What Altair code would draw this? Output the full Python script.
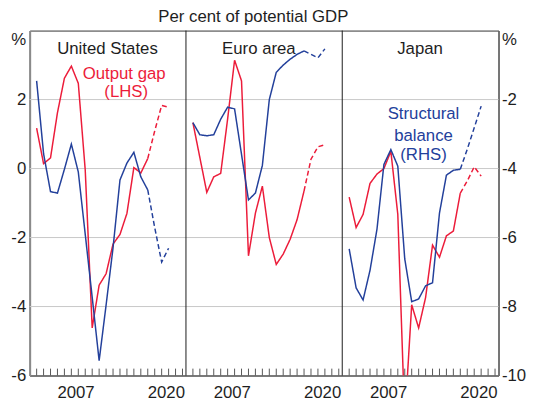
import altair as alt
import pandas as pd

# ---------------- data ----------------
years = list(range(2002, 2022))
forecast_from = 2018
countries = ["United States", "Euro area", "Japan"]

# Output gap (LHS, %)
us_gap = [1.17, 0.14, 0.31, 1.62, 2.62, 2.97, 2.47, -0.05, -4.62, -3.38,
          -3.05, -2.19, -1.91, -1.30, 0.03, -0.13, 0.29, 1.09, 1.83, 1.78]
ea_gap = [1.33, 0.32, -0.69, -0.24, -0.14, 1.44, 3.14, 2.54, -2.53, -1.29,
          -0.51, -2.00, -2.78, -2.48, -2.05, -1.48, -0.65, 0.27, 0.63, 0.69]
jp_gap = [-0.83, -1.71, -1.33, -0.43, -0.16, 0.00, 0.50, -1.33, -7.30, -3.95,
          -4.62, -3.74, -2.22, -2.57, -1.95, -1.81, -0.71, -0.36, 0.05, -0.22]

# Structural balance (RHS, %)
us_bal = [-1.46, -3.57, -4.67, -4.71, -4.02, -3.29, -4.10, -5.91, -7.73, -9.57,
          -7.96, -6.30, -4.33, -3.84, -3.53, -4.24, -4.62, -5.71, -6.71, -6.31]
ea_bal = [-2.67, -3.02, -3.05, -3.02, -2.57, -2.22, -2.27, -3.59, -4.91, -4.71,
          -3.91, -2.00, -1.21, -1.00, -0.83, -0.69, -0.59, -0.69, -0.79, -0.53]
jp_bal = [-6.33, -7.46, -7.81, -6.95, -5.76, -3.88, -3.45, -3.93, -6.62, -7.86,
          -7.78, -7.40, -7.31, -5.29, -4.19, -4.05, -4.02, -3.44, -2.82, -2.19]

tick_years = list(range(2002, 2024))
label_years = ["2007", "2020"]
lhs_ticks = [-6, -4, -2, 0, 2]
rhs_ticks = [-10, -8, -6, -4, -2]
grid_vals = [-4, -2, 0, 2]

RED = "#ec1c3a"
BLUE = "#23409b"
FONT = "Liberation Sans"
TXT = "#1e1e1e"

# ---------------- layout helpers ----------------
SPAN = 22.5          # years per panel
START = 2001         # left edge year of each panel
XMAX = 3 * SPAN


def px(k, year):
    return k * SPAN + (year - START)


gaps = [us_gap, ea_gap, jp_gap]
bals = [us_bal, ea_bal, jp_bal]

rows_gap, rows_bal = [], []
for k, c in enumerate(countries):
    for i, y in enumerate(years):
        for seg in ("actual", "forecast"):
            if (seg == "actual" and y <= forecast_from) or (seg == "forecast" and y >= forecast_from):
                rows_gap.append({"country": c, "x": px(k, y), "v": gaps[k][i], "seg": seg})
                rows_bal.append({"country": c, "x": px(k, y), "v": bals[k][i], "seg": seg})
gap_df = pd.DataFrame(rows_gap)
bal_df = pd.DataFrame(rows_bal)

tick_df = pd.DataFrame([{"x": px(k, y), "v": -6, "v2": -5.8}
                        for k in range(3) for y in tick_years])
label_pos = [px(k, int(l)) + 0.6 for k in range(3) for l in label_years]
grid_df = pd.DataFrame({"v": grid_vals})
sep_df = pd.DataFrame({"x": [SPAN, 2 * SPAN]})

titles_df = pd.DataFrame({"t": countries, "x": [11.2, 33.0, 56.2], "v": [3.47, 3.47, 3.47]})
sub_df = pd.DataFrame({"t": ["Per cent of potential GDP"], "x": [32.2], "v": [4.25]})
red_txt = pd.DataFrame({"t": ["Output gap", "(LHS)"], "x": [13.6, 13.9], "v": [2.75, 2.21]})
blue_txt = pd.DataFrame({"t": ["Structural", "balance", "(RHS)"], "x": [56.7, 56.7, 56.7],
                         "v": [-2.42, -3.05, -3.62]})

xscale = alt.Scale(domain=[0, XMAX], nice=False, zero=False)
yl = alt.Scale(domain=[-6, 4], nice=False, zero=False)
yr = alt.Scale(domain=[-10, 0], nice=False, zero=False)

x_axis = alt.Axis(values=label_pos, labelExpr="datum.value % 22.5 < 10 ? '2007' : '2020'",
                  orient="bottom", ticks=False, tickSize=0, grid=False, title=None,
                  labelFlush=False, labelOverlap=False, labelFontSize=17, labelFont=FONT,
                  labelColor=TXT, labelPadding=9, domainColor="#7a7a7a", domainWidth=2)
l_axis = alt.Axis(values=lhs_ticks + [3.75], orient="left",
                  labelExpr="datum.value > 3 ? '%' : '' + datum.value",
                  ticks=False, tickSize=0, grid=False, title=None, labelOverlap=False,
                  labelFontSize=17, labelFont=FONT, labelColor=TXT, labelPadding=4,
                  labelFlush=False, domainColor="#8a8a8a", domainWidth=2)
r_axis = alt.Axis(values=rhs_ticks + [-0.25], orient="right",
                  labelExpr="datum.value > -0.5 ? '%' : '' + datum.value",
                  ticks=False, tickSize=0, grid=False, title=None, labelOverlap=False,
                  labelFontSize=17, labelFont=FONT, labelColor=TXT, labelPadding=3,
                  labelFlush=False, domainColor="#6a6a6a", domainWidth=1.5)

X = alt.X("x:Q", scale=xscale, axis=x_axis)
YL = alt.Y("v:Q", scale=yl, axis=l_axis)
YR = alt.Y("v:Q", scale=yr, axis=r_axis)

dash = alt.StrokeDash("seg:N", scale=alt.Scale(domain=["actual", "forecast"],
                                               range=[[1, 0], [5, 3]]), legend=None)

grid = alt.Chart(grid_df).mark_rule(color="#c8c8c8", strokeWidth=1).encode(y=YL)
seps = alt.Chart(sep_df).mark_rule(color="#1a1a1a", strokeWidth=1).encode(x=X)
ticks = alt.Chart(tick_df).mark_rule(color="#555555", strokeWidth=1).encode(
    x=X, y=YL, y2="v2:Q")
red_line = alt.Chart(gap_df).mark_line(color=RED, strokeWidth=1.5, clip=True).encode(
    x=X, y=YL, strokeDash=dash, detail="country:N")
titles = alt.Chart(titles_df).mark_text(fontSize=17, font=FONT, color=TXT, align="center",
                                        baseline="middle").encode(x=X, y=YL, text="t:N")
subtitle = alt.Chart(sub_df).mark_text(fontSize=17, font=FONT, color=TXT, align="center",
                                       baseline="alphabetic").encode(x=X, y=YL, text="t:N")
red_lab = alt.Chart(red_txt).mark_text(fontSize=17, font=FONT, color=RED, align="center",
                                       baseline="middle").encode(x=X, y=YL, text="t:N")

left = alt.layer(grid, seps, ticks, red_line, titles, subtitle, red_lab)

blue_line = alt.Chart(bal_df).mark_line(color=BLUE, strokeWidth=1.5, clip=True).encode(
    x=X, y=YR, strokeDash=dash, detail="country:N")
blue_lab = alt.Chart(blue_txt).mark_text(fontSize=17, font=FONT, color=BLUE, align="center",
                                         baseline="middle").encode(x=X, y=YR, text="t:N")

right = alt.layer(blue_line, blue_lab)

chart = alt.layer(left, right).resolve_scale(y="independent").properties(
    width=475.7, height=350,
    autosize=alt.AutoSizeParams(type="none"),
    padding={"left": 22, "top": 20, "right": 36, "bottom": 27},
    background="white",
).configure_view(stroke="#333333", strokeWidth=1)

chart.save("out.html", embed_options={"renderer": "svg", "actions": False})
